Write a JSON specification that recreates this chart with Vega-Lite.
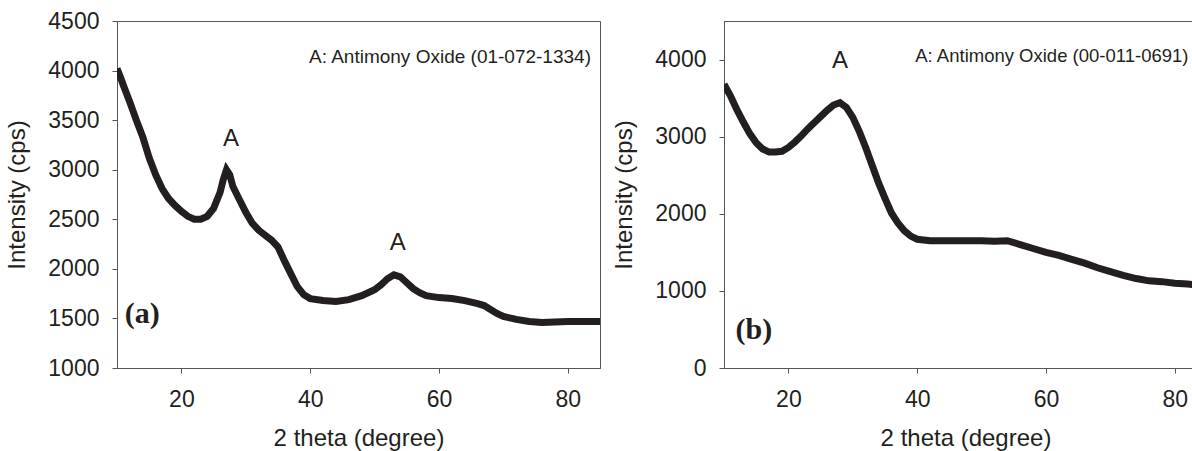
{
  "$schema": "https://vega.github.io/schema/vega-lite/v6.json",
  "background": "white",
  "padding": {"left": 5, "top": 9, "right": 0, "bottom": 0},
  "spacing": 11,
  "config": {
    "view": {"stroke": "#555", "strokeWidth": 1},
    "axis": {
      "labelFont": "Liberation Sans", "titleFont": "Liberation Sans",
      "labelFontSize": 23, "titleFontSize": 24, "format": "d",
      "labelColor": "#231f20", "titleColor": "#231f20", "titleFontWeight": "normal",
      "domainColor": "#555", "tickColor": "#555", "tickSize": 5, "grid": false
    },
    "axisX": {"labelPadding": 15, "titlePadding": 15},
    "axisY": {"labelPadding": 13, "titlePadding": 18},
    "text": {"font": "Liberation Sans", "color": "#231f20"}
  },
  "datasets": {
    "a": [
      {"theta": 10, "intensity": 4020}, {"theta": 10.5, "intensity": 3940}, {"theta": 11, "intensity": 3850},
      {"theta": 12, "intensity": 3680}, {"theta": 13, "intensity": 3500}, {"theta": 14, "intensity": 3330},
      {"theta": 15, "intensity": 3120}, {"theta": 16, "intensity": 2950}, {"theta": 17, "intensity": 2810},
      {"theta": 18, "intensity": 2710}, {"theta": 19, "intensity": 2640}, {"theta": 20, "intensity": 2580},
      {"theta": 21, "intensity": 2530}, {"theta": 22, "intensity": 2500}, {"theta": 23, "intensity": 2500},
      {"theta": 24, "intensity": 2530}, {"theta": 25, "intensity": 2610}, {"theta": 26, "intensity": 2770},
      {"theta": 26.5, "intensity": 2900}, {"theta": 27, "intensity": 3000}, {"theta": 27.5, "intensity": 2950},
      {"theta": 28, "intensity": 2830}, {"theta": 29, "intensity": 2700}, {"theta": 30, "intensity": 2570},
      {"theta": 31, "intensity": 2460}, {"theta": 32, "intensity": 2390}, {"theta": 33, "intensity": 2340},
      {"theta": 34, "intensity": 2290}, {"theta": 35, "intensity": 2220}, {"theta": 36, "intensity": 2080},
      {"theta": 37, "intensity": 1950}, {"theta": 38, "intensity": 1820}, {"theta": 39, "intensity": 1740},
      {"theta": 40, "intensity": 1700}, {"theta": 42, "intensity": 1680}, {"theta": 44, "intensity": 1670},
      {"theta": 46, "intensity": 1690}, {"theta": 48, "intensity": 1730}, {"theta": 50, "intensity": 1790},
      {"theta": 51, "intensity": 1840}, {"theta": 52, "intensity": 1900}, {"theta": 53, "intensity": 1940},
      {"theta": 54, "intensity": 1920}, {"theta": 55, "intensity": 1860}, {"theta": 56, "intensity": 1800},
      {"theta": 57, "intensity": 1760}, {"theta": 58, "intensity": 1730}, {"theta": 60, "intensity": 1710},
      {"theta": 62, "intensity": 1700}, {"theta": 64, "intensity": 1680}, {"theta": 66, "intensity": 1650},
      {"theta": 67, "intensity": 1630}, {"theta": 68, "intensity": 1590}, {"theta": 69, "intensity": 1550},
      {"theta": 70, "intensity": 1520}, {"theta": 72, "intensity": 1490}, {"theta": 74, "intensity": 1470},
      {"theta": 76, "intensity": 1460}, {"theta": 78, "intensity": 1465}, {"theta": 80, "intensity": 1470},
      {"theta": 82, "intensity": 1470}, {"theta": 84, "intensity": 1470}, {"theta": 85, "intensity": 1470}
    ],
    "b": [
      {"theta": 10, "intensity": 3680}, {"theta": 11, "intensity": 3530}, {"theta": 12, "intensity": 3350},
      {"theta": 13, "intensity": 3190}, {"theta": 14, "intensity": 3040}, {"theta": 15, "intensity": 2920},
      {"theta": 16, "intensity": 2840}, {"theta": 17, "intensity": 2800}, {"theta": 18, "intensity": 2800},
      {"theta": 19, "intensity": 2810}, {"theta": 20, "intensity": 2860}, {"theta": 21, "intensity": 2930},
      {"theta": 22, "intensity": 3010}, {"theta": 23, "intensity": 3100}, {"theta": 24, "intensity": 3180},
      {"theta": 25, "intensity": 3260}, {"theta": 26, "intensity": 3340}, {"theta": 27, "intensity": 3410},
      {"theta": 28, "intensity": 3440}, {"theta": 29, "intensity": 3380}, {"theta": 30, "intensity": 3250},
      {"theta": 31, "intensity": 3070}, {"theta": 32, "intensity": 2860}, {"theta": 33, "intensity": 2630},
      {"theta": 34, "intensity": 2400}, {"theta": 35, "intensity": 2200}, {"theta": 36, "intensity": 2010},
      {"theta": 37, "intensity": 1880}, {"theta": 38, "intensity": 1780}, {"theta": 39, "intensity": 1710},
      {"theta": 40, "intensity": 1670}, {"theta": 42, "intensity": 1650}, {"theta": 45, "intensity": 1650},
      {"theta": 48, "intensity": 1650}, {"theta": 50, "intensity": 1650}, {"theta": 52, "intensity": 1645},
      {"theta": 54, "intensity": 1650}, {"theta": 56, "intensity": 1600}, {"theta": 58, "intensity": 1550},
      {"theta": 60, "intensity": 1500}, {"theta": 62, "intensity": 1460}, {"theta": 64, "intensity": 1410},
      {"theta": 66, "intensity": 1360}, {"theta": 68, "intensity": 1300}, {"theta": 70, "intensity": 1250},
      {"theta": 72, "intensity": 1200}, {"theta": 74, "intensity": 1160}, {"theta": 76, "intensity": 1130},
      {"theta": 78, "intensity": 1120}, {"theta": 80, "intensity": 1100}, {"theta": 82, "intensity": 1090},
      {"theta": 84, "intensity": 1070}, {"theta": 85, "intensity": 1060}
    ]
  },
  "hconcat": [
    {
      "width": 483, "height": 347,
      "layer": [
        {
          "data": {"name": "a"},
          "mark": {"type": "line", "color": "#231f20", "strokeWidth": 7, "clip": true},
          "encoding": {
            "x": {"field": "theta", "type": "quantitative", "scale": {"domain": [10, 85], "nice": false, "zero": false},
                  "axis": {"values": [20, 40, 60, 80], "title": "2 theta (degree)"}},
            "y": {"field": "intensity", "type": "quantitative", "scale": {"domain": [1000, 4500], "nice": false, "zero": false},
                  "axis": {"values": [1000, 1500, 2000, 2500, 3000, 3500, 4000, 4500], "title": "Intensity (cps)"}}
          }
        },
        {
          "data": {"values": [{}]},
          "mark": {"type": "text", "align": "right", "baseline": "alphabetic", "fontSize": 19},
          "encoding": {"x": {"datum": 83.6}, "y": {"datum": 4074}, "text": {"value": "A: Antimony Oxide (01-072-1334)"}}
        },
        {
          "data": {"values": [{}]},
          "mark": {"type": "text", "align": "center", "baseline": "alphabetic", "fontSize": 24},
          "encoding": {"x": {"datum": 27.7}, "y": {"datum": 3241}, "text": {"value": "A"}}
        },
        {
          "data": {"values": [{}]},
          "mark": {"type": "text", "align": "center", "baseline": "alphabetic", "fontSize": 24},
          "encoding": {"x": {"datum": 53.6}, "y": {"datum": 2191}, "text": {"value": "A"}}
        },
        {
          "data": {"values": [{}]},
          "mark": {"type": "text", "align": "left", "baseline": "alphabetic", "fontSize": 30, "font": "Liberation Serif", "fontWeight": "bold"},
          "encoding": {"x": {"datum": 11.2}, "y": {"datum": 1456}, "text": {"value": "(a)"}}
        }
      ]
    },
    {
      "width": 483, "height": 347,
      "layer": [
        {
          "data": {"name": "b"},
          "mark": {"type": "line", "color": "#231f20", "strokeWidth": 7, "clip": true},
          "encoding": {
            "x": {"field": "theta", "type": "quantitative", "scale": {"domain": [10, 85], "nice": false, "zero": false},
                  "axis": {"values": [20, 40, 60, 80], "title": "2 theta (degree)"}},
            "y": {"field": "intensity", "type": "quantitative", "scale": {"domain": [0, 4500], "nice": false},
                  "axis": {"values": [0, 1000, 2000, 3000, 4000], "title": "Intensity (cps)"}}
          }
        },
        {
          "data": {"values": [{}]},
          "mark": {"type": "text", "align": "left", "baseline": "alphabetic", "fontSize": 18.5},
          "encoding": {"x": {"datum": 39.7}, "y": {"datum": 3967}, "text": {"value": "A: Antimony Oxide (00-011-0691)"}}
        },
        {
          "data": {"values": [{}]},
          "mark": {"type": "text", "align": "center", "baseline": "alphabetic", "fontSize": 24},
          "encoding": {"x": {"datum": 28.0}, "y": {"datum": 3885}, "text": {"value": "A"}}
        },
        {
          "data": {"values": [{}]},
          "mark": {"type": "text", "align": "left", "baseline": "alphabetic", "fontSize": 30, "font": "Liberation Serif", "fontWeight": "bold"},
          "encoding": {"x": {"datum": 11.8}, "y": {"datum": 374}, "text": {"value": "(b)"}}
        }
      ]
    }
  ]
}
